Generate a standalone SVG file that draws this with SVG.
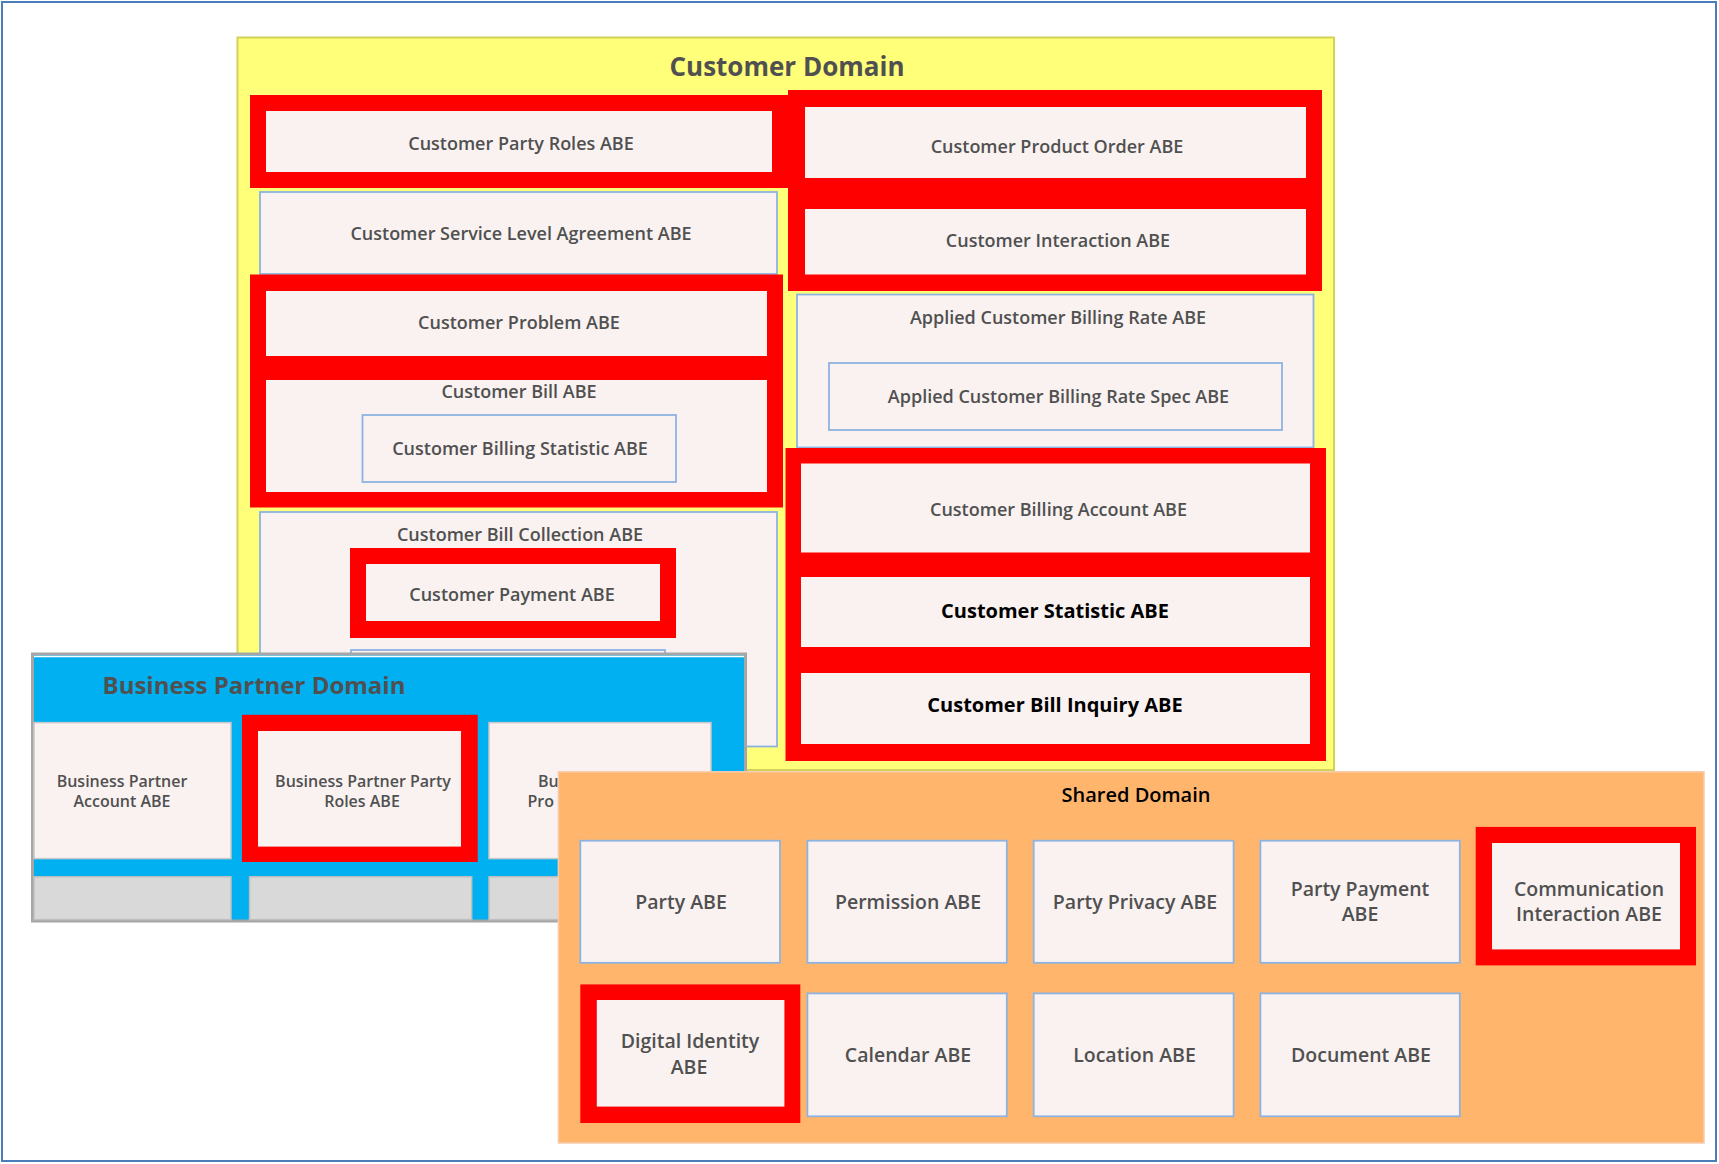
<svg xmlns="http://www.w3.org/2000/svg" width="1719" height="1164" viewBox="0 0 1719 1164">
<style>
text{font-family:"Open Sans","Noto Sans","DejaVu Sans",sans-serif;font-weight:600;text-anchor:middle}
.t{fill:#505050;font-size:18px}
.tb{fill:#000;font-size:20px;font-weight:700}
.ts{fill:#505050;font-size:19.5px}
.tp{fill:#505050;font-size:16px}
.n{fill:#f9f2f0;stroke:#8db3e2;stroke-width:1.8}
.p{fill:#f9f2f0}
.r{fill:#ff0000}
.g{fill:#d9d9d9;stroke:#bfbfbf;stroke-width:1.5}
.bpn{fill:#f9f2f0;stroke:#c8c8c8;stroke-width:1.5}
</style>
<rect x="0" y="0" width="1719" height="1164" fill="#ffffff"/>
<rect id="frame" x="2" y="2" width="1714" height="1159" fill="#ffffff" stroke="#4a7ebb" stroke-width="2"/>

<g id="customer-domain">
<rect x="237.5" y="37.5" width="1096.5" height="732.5" fill="#ffff7a" stroke="#d2d25a" stroke-width="2"/>
<text x="787" y="75.5" style="fill:#505050;font-size:26px;font-weight:700">Customer Domain</text>
</g>

<g id="customer-party-roles">
<rect class="r" x="250" y="95" width="538" height="93"/>
<rect class="p" x="266" y="111" width="506" height="61"/>
<text class="t" x="521" y="150">Customer Party Roles ABE</text>
</g>

<g id="customer-sla">
<rect class="n" x="260" y="192" width="517" height="82"/>
<text class="t" x="521" y="239.5">Customer Service Level Agreement ABE</text>
</g>

<g id="customer-problem-bill-frame">
<rect class="r" x="250" y="274.5" width="533" height="233"/>
</g>
<g id="customer-problem">
<rect class="p" x="266" y="291" width="501" height="65"/>
<text class="t" x="519" y="328.5">Customer Problem ABE</text>
</g>
<g id="customer-bill">
<rect class="p" x="266" y="380" width="501" height="112"/>
<text class="t" x="519" y="397.5">Customer Bill ABE</text>
</g>
<g id="customer-billing-statistic">
<rect class="n" x="362.5" y="415" width="313.5" height="67"/>
<text class="t" x="520" y="455">Customer Billing Statistic ABE</text>
</g>

<g id="customer-bill-collection">
<rect class="n" x="260" y="512" width="517" height="234.5"/>
<text class="t" x="520" y="541">Customer Bill Collection ABE</text>
</g>
<g id="customer-payment">
<rect class="r" x="350" y="548" width="326" height="90"/>
<rect class="p" x="366" y="564" width="294" height="57"/>
<text class="t" x="512" y="601">Customer Payment ABE</text>
</g>
<g id="customer-hidden-box">
<rect class="n" x="351" y="650" width="314" height="60"/>
</g>

<g id="customer-order-interaction-frame">
<rect class="r" x="788" y="90" width="534" height="201"/>
</g>
<g id="customer-product-order">
<rect class="p" x="805" y="107" width="501" height="71"/>
<text class="t" x="1057" y="152.5">Customer Product Order ABE</text>
</g>
<g id="customer-interaction">
<rect class="p" x="805" y="209" width="501" height="65.5"/>
<text class="t" x="1058" y="247">Customer Interaction ABE</text>
</g>

<g id="applied-customer-billing-rate">
<rect class="n" x="797" y="294.5" width="516.5" height="153"/>
<text class="t" x="1058" y="323.5">Applied Customer Billing Rate ABE</text>
</g>
<g id="applied-customer-billing-rate-spec">
<rect class="n" x="829" y="363" width="453" height="67"/>
<text class="t" x="1058.5" y="403">Applied Customer Billing Rate Spec ABE</text>
</g>

<g id="customer-billing-frame">
<rect class="r" x="785.5" y="448" width="540.5" height="313"/>
</g>
<g id="customer-billing-account">
<rect class="p" x="801" y="463.5" width="509" height="89"/>
<text class="t" x="1058.5" y="516">Customer Billing Account ABE</text>
</g>
<g id="customer-statistic">
<rect class="p" x="801" y="577" width="509" height="70"/>
<text class="tb" x="1055" y="617.5">Customer Statistic ABE</text>
</g>
<g id="customer-bill-inquiry">
<rect class="p" x="801" y="673" width="509" height="71"/>
<text class="tb" x="1055" y="711.5">Customer Bill Inquiry ABE</text>
</g>

<g id="business-partner-domain">
<rect x="32.5" y="654" width="713" height="267" fill="#00b0f0" stroke="#a6a6a6" stroke-width="3"/>
<line x1="34" y1="656.5" x2="744" y2="656.5" stroke="#ffffff" stroke-width="1.5"/>
<text x="102.5" y="693.5" style="fill:#505050;font-size:24px;font-weight:700;text-anchor:start">Business Partner Domain</text>
</g>
<g id="bp-account">
<rect class="bpn" x="34" y="722.6" width="197" height="136"/>
<text class="tp" x="122" y="786.5">Business Partner</text>
<text class="tp" x="122" y="807">Account ABE</text>
</g>
<g id="bp-party-roles">
<rect class="r" x="242" y="714.8" width="235.7" height="147.2"/>
<rect class="p" x="258" y="731" width="203" height="115.6"/>
<text class="tp" x="363" y="786.5">Business Partner Party</text>
<text class="tp" x="362" y="807">Roles ABE</text>
</g>
<g id="bp-third">
<rect class="bpn" x="489" y="722.6" width="222" height="136"/>
<text class="tp" x="538" y="786.5" style="text-anchor:start">Bu</text>
<text class="tp" x="527.5" y="807" style="text-anchor:start">Pro</text>
</g>
<g id="bp-row2">
<rect class="g" x="34" y="876.8" width="197" height="42.8"/>
<rect class="g" x="249.6" y="876.8" width="222.1" height="42.8"/>
<rect class="g" x="489" y="876.8" width="222" height="42.8"/>
</g>

<g id="shared-domain">
<rect x="558.4" y="771.8" width="1145.6" height="371.2" fill="#ffb56c" stroke="#f8cbad" stroke-width="1.5"/>
<text x="1136" y="801.5" style="fill:#000;font-size:20px">Shared Domain</text>
</g>
<g id="party">
<rect class="n" x="580.3" y="840.7" width="199.7" height="122.1"/>
<text class="ts" x="681" y="909">Party ABE</text>
</g>
<g id="permission">
<rect class="n" x="807.4" y="840.7" width="199.4" height="122.1"/>
<text class="ts" x="908" y="909">Permission ABE</text>
</g>
<g id="party-privacy">
<rect class="n" x="1033.7" y="840.7" width="199.9" height="122.1"/>
<text class="ts" x="1135" y="909">Party Privacy ABE</text>
</g>
<g id="party-payment">
<rect class="n" x="1260.4" y="840.7" width="199.4" height="122.1"/>
<text class="ts" x="1360" y="895.5">Party Payment</text>
<text class="ts" x="1360" y="921">ABE</text>
</g>
<g id="communication-interaction">
<rect class="r" x="1475.7" y="826.9" width="220.3" height="138.5"/>
<rect class="p" x="1492" y="843" width="188" height="106.4"/>
<text class="ts" x="1589" y="895.5">Communication</text>
<text class="ts" x="1589" y="921">Interaction ABE</text>
</g>
<g id="digital-identity">
<rect class="r" x="580.3" y="984.4" width="220" height="138.6"/>
<rect class="p" x="596.8" y="1000" width="187.6" height="106.6"/>
<text class="ts" x="690" y="1048">Digital Identity</text>
<text class="ts" x="689" y="1074">ABE</text>
</g>
<g id="calendar">
<rect class="n" x="807.4" y="993.4" width="199.4" height="122.9"/>
<text class="ts" x="908" y="1062">Calendar ABE</text>
</g>
<g id="location">
<rect class="n" x="1033.7" y="993.4" width="199.9" height="122.9"/>
<text class="ts" x="1134.5" y="1062">Location ABE</text>
</g>
<g id="document">
<rect class="n" x="1260.4" y="993.4" width="199.4" height="122.9"/>
<text class="ts" x="1361" y="1062">Document ABE</text>
</g>
<g id="connectors"></g>
</svg>
